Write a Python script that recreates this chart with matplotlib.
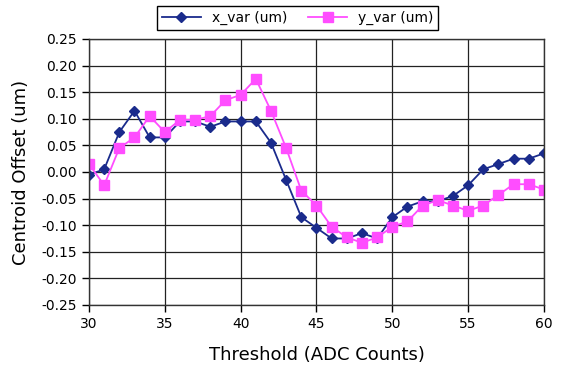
import matplotlib.pyplot as plt
import numpy as np

# Threshold values (ADC counts)
threshold = list(range(30, 61))

# Centroid offsets (um)
x_var = [-0.005, 0.005, 0.075, 0.115, 0.065, 0.065, 0.095, 0.095, 0.085, 0.095,
         0.095, 0.095, 0.055, -0.015, -0.085, -0.105, -0.125, -0.125, -0.115, -0.125,
         -0.085, -0.065, -0.055, -0.055, -0.045, -0.025, 0.005, 0.015, 0.025, 0.025,
         0.035]
y_var = [0.015, -0.025, 0.045, 0.065, 0.105, 0.075, 0.098, 0.098, 0.105, 0.135,
         0.145, 0.175, 0.115, 0.045, -0.035, -0.063, -0.103, -0.123, -0.133, -0.123,
         -0.103, -0.093, -0.063, -0.053, -0.063, -0.073, -0.063, -0.043, -0.023, -0.023,
         -0.033]

# y tick values
yticks = [-0.25, -0.20, -0.15, -0.10, -0.05, 0.0, 0.05, 0.10, 0.15, 0.20, 0.25]

fig = plt.figure(figsize=(5.64, 3.79), dpi=100)
ax = fig.add_axes([0.1578, 0.1953, 0.8067, 0.7018])

ax.plot(threshold, x_var, color='#1a2b8c', marker='D', markersize=5.5,
        linewidth=1.3, label='x_var (um)')
ax.plot(threshold, y_var, color='#ff4dff', marker='s', markersize=6.5,
        linewidth=1.3, label='y_var (um)')

ax.set_xlim(30, 60)
ax.set_ylim(-0.25, 0.25)
ax.set_xticks(np.arange(30, 61, 5))
ax.set_yticks(yticks)
ax.set_yticklabels([f'{v:.2f}' for v in yticks])
ax.grid(True, color='#222222', linewidth=0.9)
ax.set_axisbelow(True)
ax.tick_params(direction='out', length=5, width=1, labelsize=10, colors='black')
for s in ax.spines.values():
    s.set_color('#333333')
    s.set_linewidth(1.0)

ax.set_xlabel('Threshold (ADC Counts)', fontsize=13, labelpad=11)
ax.set_ylabel('Centroid Offset (um)', fontsize=13, labelpad=8)

leg = ax.legend(loc='center', bbox_to_anchor=(0.528, 0.9525),
                bbox_transform=fig.transFigure, ncol=2, fontsize=10,
                fancybox=False, framealpha=1, edgecolor='black',
                handlelength=2.8, columnspacing=1.5, borderpad=0.35)
leg.get_frame().set_linewidth(1.0)

fig.savefig('out.png', dpi=100)
